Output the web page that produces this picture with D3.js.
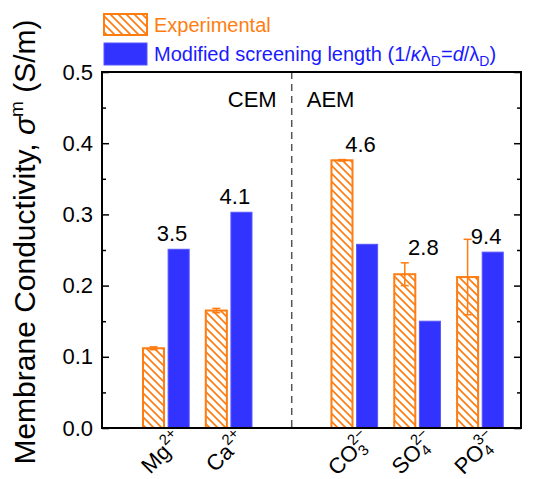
<!DOCTYPE html>
<html>
<head>
<meta charset="utf-8">
<script src="https://cdn.jsdelivr.net/npm/d3@7"></script>
<style>
  body { margin: 0; background: #fff; }
  svg text { font-family: "Liberation Sans", Arial, sans-serif; }
</style>
</head>
<body>
<div id="chart"></div>
<script>
// data
var ionBase = ["Mg", "Ca", "CO", "SO", "PO"];
var ionSub = ["", "", "3", "4", "4"];
var ionSup = ["2+", "2+", "2\u2212", "2\u2212", "3\u2212"];
var ionPos = [1, 2, 4, 5, 6];
var experimental = [0.112, 0.165, 0.376, 0.216, 0.212];
var expError = [0.002, 0.003, 0.001, 0.016, 0.053];
var modified = [0.251, 0.303, 0.258, 0.150, 0.247];
var ratioLabels = ["3.5", "4.1", "4.6", "2.8", "9.4"];
var yTicks = [0, 0.1, 0.2, 0.3, 0.4, 0.5];
var yMinor = [0.05, 0.15, 0.25, 0.35, 0.45];
var dividerPos = 3;

var orange = "#ff7d10", blue = "#3333ff";

var W = 541, H = 479;
var margin = {top: 72, right: 20, bottom: 51, left: 102};
var width = W - margin.left - margin.right,
    height = H - margin.top - margin.bottom;

var x = d3.scaleLinear().domain([-0.02, 6.65]).range([0, width]);
var y = d3.scaleLinear().domain([0, 0.5]).range([height, 0]);
var barW = x(0.335) - x(0);
var off = x(0.2) - x(0);

var svg = d3.select("#chart").append("svg")
  .attr("width", W).attr("height", H);

var defs = svg.append("defs");
var pat = defs.append("pattern")
  .attr("id", "hatch")
  .attr("patternUnits", "userSpaceOnUse")
  .attr("width", 8).attr("height", 8);
pat.append("path")
  .attr("d", "M-2,6 L2,10 M0,0 L8,8 M6,-2 L10,2")
  .attr("stroke", orange).attr("stroke-width", 1.7);

var g = svg.append("g")
  .attr("transform", "translate(" + margin.left + "," + margin.top + ")");

// divider
g.append("line")
  .attr("x1", x(dividerPos)).attr("x2", x(dividerPos))
  .attr("y1", 0).attr("y2", height)
  .attr("stroke", "#555").attr("stroke-width", 1.5)
  .attr("stroke-dasharray", "7,5");

g.append("text").attr("x", x(dividerPos) - 15).attr("y", 35)
  .attr("text-anchor", "end").attr("font-size", 22).text("CEM");
g.append("text").attr("x", x(dividerPos) + 15).attr("y", 35)
  .attr("font-size", 22).text("AEM");

// bars
g.selectAll(".bexp").data(ionPos).enter().append("rect")
  .attr("class", "bexp")
  .attr("x", function(d) { return x(d) - off - barW / 2; })
  .attr("y", function(d, i) { return y(experimental[i]); })
  .attr("width", barW)
  .attr("height", function(d, i) { return height - y(experimental[i]); })
  .attr("fill", "url(#hatch)")
  .attr("stroke", orange).attr("stroke-width", 2);

g.selectAll(".bmod").data(ionPos).enter().append("rect")
  .attr("class", "bmod")
  .attr("x", function(d) { return x(d) + off - barW / 2; })
  .attr("y", function(d, i) { return y(modified[i]); })
  .attr("width", barW)
  .attr("height", function(d, i) { return height - y(modified[i]); })
  .attr("fill", blue)
  .attr("stroke", "#5555ff").attr("stroke-width", 1);

// error bars
var eb = g.selectAll(".err").data(ionPos).enter().append("g")
  .attr("class", "err")
  .attr("stroke", orange).attr("stroke-width", 1.5);
eb.append("line")
  .attr("x1", function(d) { return x(d) - off; })
  .attr("x2", function(d) { return x(d) - off; })
  .attr("y1", function(d, i) { return y(experimental[i] - expError[i]); })
  .attr("y2", function(d, i) { return y(experimental[i] + expError[i]); });
[-1, 1].forEach(function(s) {
  eb.append("line")
    .attr("x1", function(d) { return x(d) - off - 4; })
    .attr("x2", function(d) { return x(d) - off + 4; })
    .attr("y1", function(d, i) { return y(experimental[i] + s * expError[i]); })
    .attr("y2", function(d, i) { return y(experimental[i] + s * expError[i]); });
});

// ratio labels
g.selectAll(".ratio").data(ionPos).enter().append("text")
  .attr("x", function(d) { return x(d) + 6; })
  .attr("y", function(d, i) {
    var e = expError[i] < 0.03 ? experimental[i] + expError[i] : experimental[i];
    return y(Math.max(e, modified[i])) - 8;
  })
  .attr("text-anchor", "middle").attr("font-size", 22)
  .text(function(d, i) { return ratioLabels[i]; });

// axes
g.append("g").call(d3.axisLeft(y).tickValues(yTicks).tickSizeInner(-7)
    .tickSizeOuter(0).tickPadding(9).tickFormat(d3.format(".1f")))
  .call(function(a) {
    a.select(".domain").remove();
    a.selectAll("line").attr("stroke-width", 1.5);
    a.selectAll("text").attr("font-size", 22).attr("fill", "#000")
      .attr("font-family", "Liberation Sans, Arial, sans-serif");
  });
g.append("g").call(d3.axisLeft(y).tickValues(yMinor).tickSizeInner(-4)
    .tickSizeOuter(0).tickFormat(""))
  .call(function(a) { a.select(".domain").remove(); a.selectAll("line").attr("stroke-width", 1.5); });
g.append("g").attr("transform", "translate(" + width + ",0)")
  .call(d3.axisRight(y).tickValues(yTicks).tickSizeInner(-7).tickSizeOuter(0).tickFormat(""))
  .call(function(a) { a.select(".domain").remove(); a.selectAll("line").attr("stroke-width", 1.5); });
g.append("g").attr("transform", "translate(" + width + ",0)")
  .call(d3.axisRight(y).tickValues(yMinor).tickSizeInner(-4).tickSizeOuter(0).tickFormat(""))
  .call(function(a) { a.select(".domain").remove(); a.selectAll("line").attr("stroke-width", 1.5); });

g.append("rect").attr("width", width).attr("height", height)
  .attr("fill", "none").attr("stroke", "#000").attr("stroke-width", 2);

// x labels
ionPos.forEach(function(p, i) {
  var t = g.append("text")
    .attr("transform", "translate(" + (x(p) + 18) + "," + (height + 13) + ") rotate(-45)")
    .attr("text-anchor", "end").attr("font-size", 22);
  t.append("tspan").text(ionBase[i]);
  if (ionSub[i]) {
    var s = t.append("tspan").attr("font-size", 15).attr("dy", 5).text(ionSub[i]);
    var dx = -s.node().getComputedTextLength();
    t.append("tspan").attr("font-size", 15).attr("dx", dx).attr("dy", -15).text(ionSup[i]);
  } else {
    t.append("tspan").attr("font-size", 15).attr("dy", -10).text(ionSup[i]);
  }
});

// y title
var yt = svg.append("text")
  .attr("transform", "translate(35," + 242 + ") rotate(-90)")
  .attr("text-anchor", "middle").attr("font-size", 30);
yt.append("tspan").text("Membrane Conductivity, ");
yt.append("tspan").attr("font-style", "italic").text("\u03c3");
yt.append("tspan").attr("font-size", 19).attr("dy", -12).text("m");
yt.append("tspan").attr("dy", 12).text(" (S/m)");

// legend
var lg = svg.append("g");
lg.append("rect").attr("x", 104).attr("y", 14).attr("width", 43).attr("height", 21)
  .attr("fill", "url(#hatch)").attr("stroke", orange).attr("stroke-width", 2);
lg.append("rect").attr("x", 104).attr("y", 43).attr("width", 43).attr("height", 22)
  .attr("fill", blue).attr("stroke", "#5555ff").attr("stroke-width", 1);
lg.append("text").attr("x", 154).attr("y", 32).attr("font-size", 20)
  .attr("fill", orange).text("Experimental");
var lt = lg.append("text").attr("x", 154).attr("y", 61).attr("font-size", 20)
  .attr("fill", "#1a1aff");
lt.append("tspan").text("Modified screening length (1/");
lt.append("tspan").attr("font-style", "italic").text("\u03ba");
lt.append("tspan").text("\u03bb");
lt.append("tspan").attr("font-size", 14).attr("dy", 5).text("D");
lt.append("tspan").attr("dy", -5).text("=");
lt.append("tspan").attr("font-style", "italic").text("d");
lt.append("tspan").text("/\u03bb");
lt.append("tspan").attr("font-size", 14).attr("dy", 5).text("D");
lt.append("tspan").attr("dy", -5).text(")");
</script>
</body>
</html>
